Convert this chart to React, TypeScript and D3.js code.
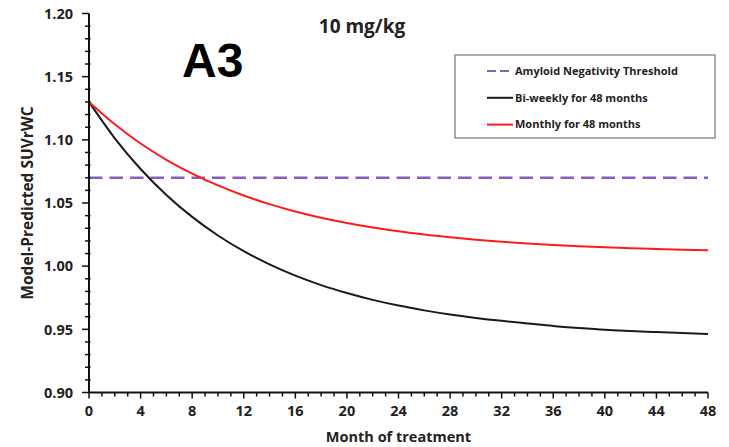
import React, { useEffect, useRef } from "react";
import * as d3 from "d3";

// months sampled every 2 months
const months = [0, 2, 4, 6, 8, 10, 12, 14, 16, 18, 20, 22, 24, 26, 28, 30, 32, 34, 36, 38, 40, 42, 44, 46, 48];
const biweekly = [1.13, 1.1012, 1.0769, 1.0564, 1.039, 1.0243, 1.0119, 1.0014, 0.9925, 0.985, 0.9787, 0.9733, 0.9688,
  0.965, 0.9617, 0.959, 0.9567, 0.9547, 0.9527, 0.9511, 0.9497, 0.9487, 0.9478, 0.947, 0.9463];
const monthly = [1.13, 1.1123, 1.0971, 1.0842, 1.0733, 1.0639, 1.0559, 1.0491, 1.0433, 1.0384, 1.0342, 1.0306, 1.0276,
  1.025, 1.0228, 1.0209, 1.0193, 1.0179, 1.0167, 1.0157, 1.0149, 1.0142, 1.0135, 1.013, 1.0125];
const threshold = 1.07;
const xTicks = [0, 4, 8, 12, 16, 20, 24, 28, 32, 36, 40, 44, 48];
const yTicks = [0.9, 0.95, 1.0, 1.05, 1.1, 1.15, 1.2];
const legendLabels = ["Amyloid Negativity Threshold", "Bi-weekly for 48 months", "Monthly for 48 months"];

const FONT = "'Open Sans', 'DejaVu Sans', sans-serif";

export default function App() {
  const ref = useRef<SVGSVGElement>(null);

  useEffect(() => {
    const svg = d3.select(ref.current);
    svg.selectAll("*").remove();

    const x = d3.scaleLinear().domain([0, 48]).range([89, 708]);
    const y = d3.scaleLinear().domain([0.9, 1.2]).range([392.5, 13.5]);

    // threshold
    svg.append("line")
      .attr("x1", x(0)).attr("x2", x(48))
      .attr("y1", y(threshold)).attr("y2", y(threshold))
      .attr("stroke", "#8a5cc0").attr("stroke-width", 2.5)
      .attr("stroke-dasharray", "13.5,7");

    const line = d3.line<number>()
      .x((d, i) => x(months[i]))
      .y(d => y(d))
      .curve(d3.curveMonotoneX);

    svg.append("path").attr("d", line(biweekly)!)
      .attr("fill", "none").attr("stroke", "#1a1a1a").attr("stroke-width", 2);
    svg.append("path").attr("d", line(monthly)!)
      .attr("fill", "none").attr("stroke", "#ff1a1a").attr("stroke-width", 2);

    // y axis
    const gy = svg.append("g");
    gy.append("line").attr("x1", x(0)).attr("x2", x(0)).attr("y1", y(1.2)).attr("y2", y(0.9))
      .attr("stroke", "#111").attr("stroke-width", 2);
    d3.range(0, 31).forEach(i => {
      const v = 0.9 + i * 0.01;
      const major = i % 5 === 0;
      gy.append("line")
        .attr("x1", x(0) - (major ? 7 : 4)).attr("x2", x(0) + (major ? 0 : 1.5))
        .attr("y1", y(v)).attr("y2", y(v))
        .attr("stroke", "#111").attr("stroke-width", 1.5);
    });
    yTicks.forEach(v => {
      gy.append("text").attr("x", 73).attr("y", y(v)).attr("dy", "0.36em")
        .attr("text-anchor", "end").attr("font-family", FONT).attr("font-weight", "bold")
        .attr("font-size", 14.5).attr("fill", "#222").text(v.toFixed(2));
    });

    // x axis
    const gx = svg.append("g");
    gx.append("line").attr("x1", x(0)).attr("x2", x(48)).attr("y1", y(0.9)).attr("y2", y(0.9))
      .attr("stroke", "#111").attr("stroke-width", 2);
    d3.range(0, 49).forEach(m => {
      const major = m % 4 === 0;
      gx.append("line")
        .attr("x1", x(m)).attr("x2", x(m))
        .attr("y1", y(0.9)).attr("y2", y(0.9) + (major ? 6 : 4))
        .attr("stroke", "#111").attr("stroke-width", 1.5);
    });
    xTicks.forEach(m => {
      gx.append("text").attr("x", x(m)).attr("y", 416)
        .attr("text-anchor", "middle").attr("font-family", FONT).attr("font-weight", "bold")
        .attr("font-size", 14.5).attr("fill", "#222").text(String(m));
    });

    // axis titles
    svg.append("text").attr("x", (x(0) + x(48)) / 2).attr("y", 442)
      .attr("text-anchor", "middle").attr("font-family", FONT).attr("font-weight", "bold")
      .attr("font-size", 14.5).attr("fill", "#222").text("Month of treatment");
    svg.append("text")
      .attr("transform", `translate(33,${(y(0.9) + y(1.2)) / 2}) rotate(-90)`)
      .attr("text-anchor", "middle").attr("font-family", FONT).attr("font-weight", "bold")
      .attr("font-size", 15.5).attr("fill", "#222").text("Model-Predicted SUVrWC");

    // titles
    svg.append("text").attr("x", 362).attr("y", 33).attr("text-anchor", "middle")
      .attr("font-family", FONT).attr("font-weight", "bold").attr("font-size", 19)
      .attr("fill", "#222").text("10 mg/kg");
    svg.append("text").attr("x", 182).attr("y", 77)
      .attr("font-family", "'Liberation Sans', Arial, sans-serif").attr("font-weight", "bold")
      .attr("font-size", 48).attr("fill", "#000").text("A3");

    // legend
    const lg = svg.append("g");
    lg.append("rect").attr("x", 455).attr("y", 55).attr("width", 260).attr("height", 83)
      .attr("fill", "#fff").attr("stroke", "#777").attr("stroke-width", 1.2);
    const colors = ["#8a5cc0", "#1a1a1a", "#ff1a1a"];
    legendLabels.forEach((lab, i) => {
      const ly = 71 + i * 26.8;
      lg.append("line").attr("x1", 487).attr("x2", 513).attr("y1", ly).attr("y2", ly)
        .attr("stroke", colors[i]).attr("stroke-width", 2)
        .attr("stroke-dasharray", i === 0 ? "9,4" : null);
      lg.append("text").attr("x", 515).attr("y", ly).attr("dy", "0.35em")
        .attr("font-family", FONT).attr("font-weight", "bold").attr("font-size", 11)
        .attr("fill", "#222").text(lab);
    });
  }, []);

  return (
    <svg ref={ref} width={729} height={447}
      style={{ position: "absolute", left: 0, top: 0, background: "#fff" }} />
  );
}
